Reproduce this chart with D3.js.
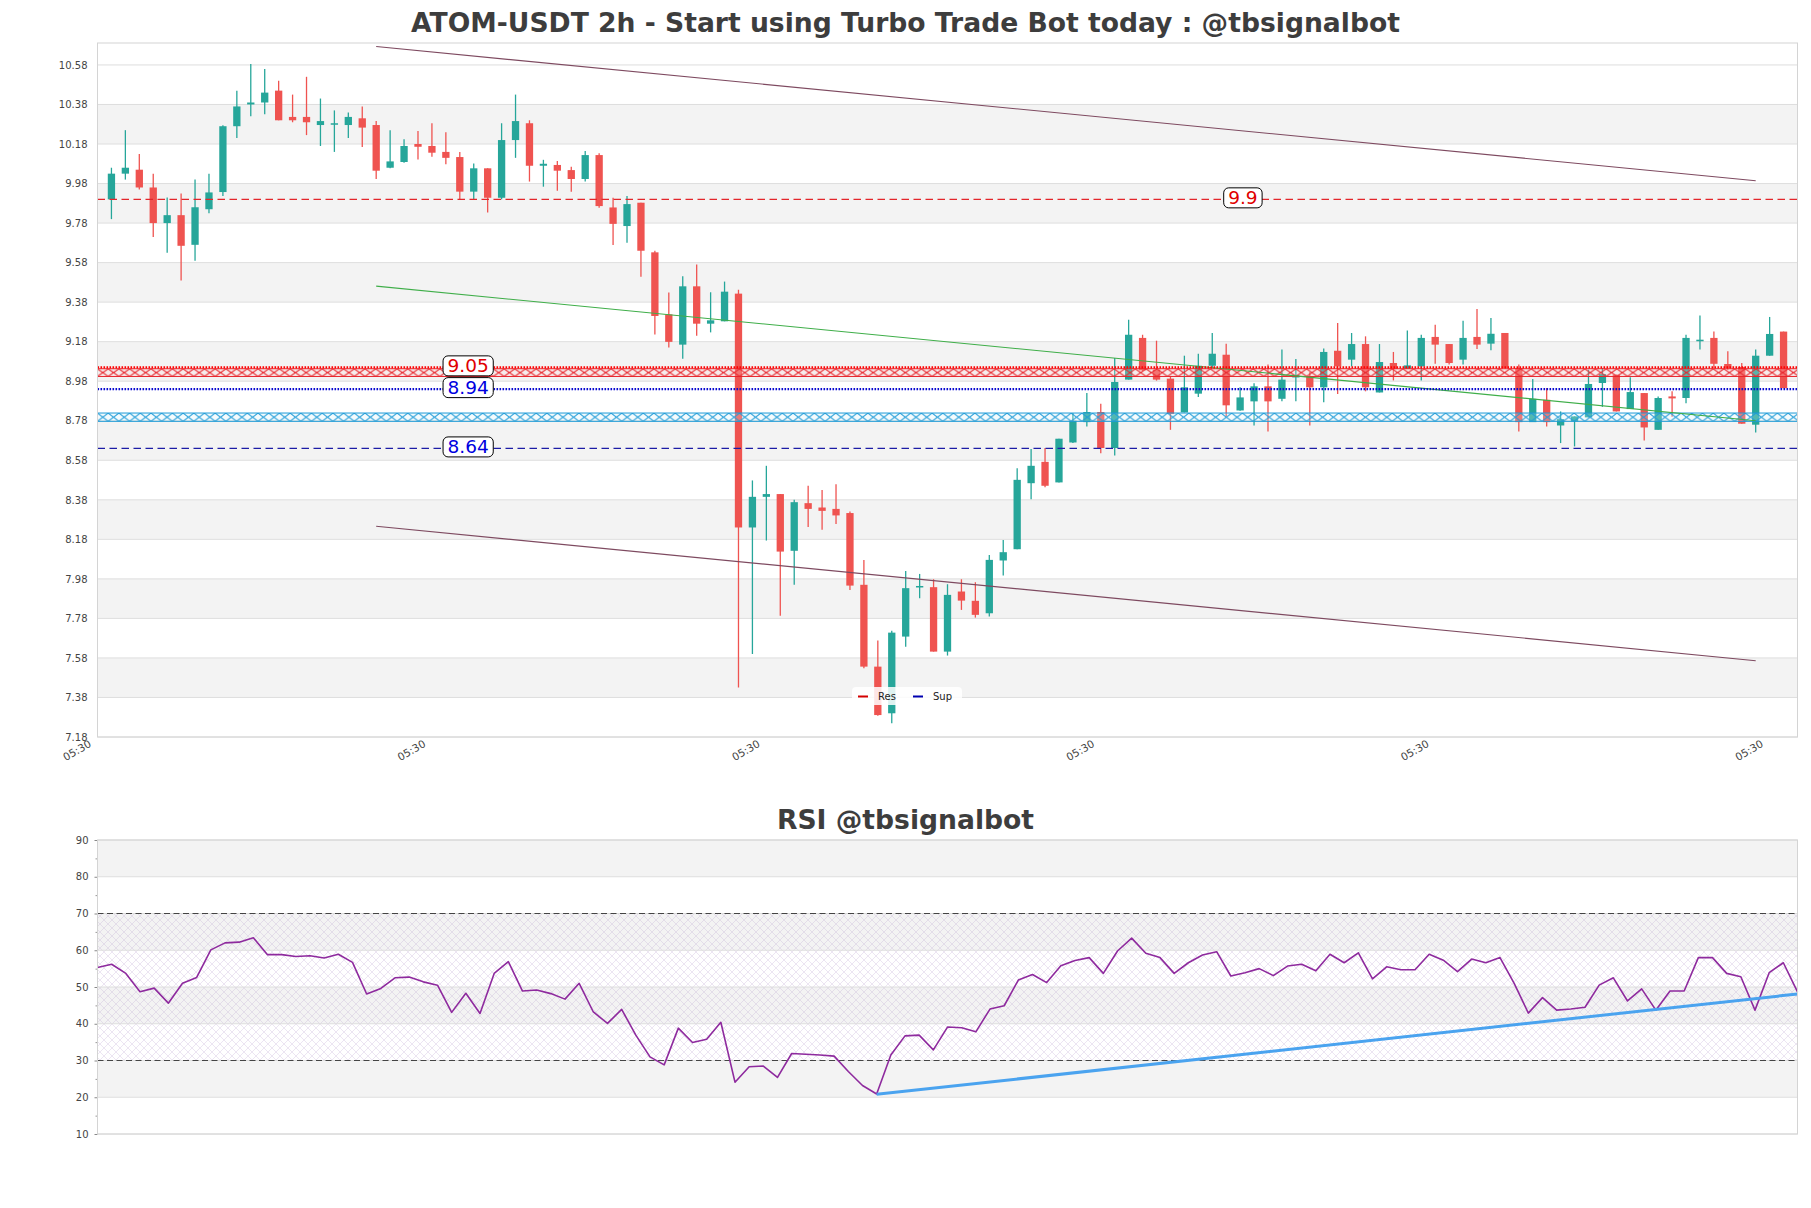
<!DOCTYPE html>
<html>
<head>
<meta charset="utf-8">
<script src="https://cdn.jsdelivr.net/npm/d3@7"></script>
<style>
  body { margin: 0; background: #fff; }
  svg { display: block; font-family: "DejaVu Sans", sans-serif; }
</style>
</head>
<body>
<div class="chart"></div>
<script>
// candle data, 2h bars
const opens = [9.90,10.03,10.05,9.96,9.78,9.82,9.67,9.85,9.937,10.27,
  10.38,10.39,10.45,10.317,10.317,10.276,10.28,10.276,10.31,10.276,
  10.06,10.089,10.18,10.17,10.14,10.114,9.939,10.057,9.908,10.20,
  10.285,10.07,10.074,10.048,10.003,10.124,9.859,9.765,9.883,9.632,
  9.318,9.165,9.46,9.271,9.283,9.423,8.24,8.395,8.409,8.122,
  8.363,8.341,8.334,8.313,7.95,7.536,7.30,7.688,7.939,7.938,
  7.612,7.916,7.869,7.806,8.073,8.13,8.464,8.572,8.468,8.67,
  8.773,8.824,8.642,8.988,9.199,9.038,8.993,8.822,8.917,9.058,
  9.114,8.832,8.878,8.954,8.891,8.999,9.004,8.949,9.134,9.089,
  9.168,8.923,9.072,9.043,9.055,9.204,9.168,9.089,9.204,9.17,
  9.224,9.047,8.773,8.886,8.756,8.777,8.797,8.971,9.013,8.839,
  8.92,8.734,8.903,8.895,9.182,9.199,9.067,9.052,8.76,9.109,
  9.231];
const highs = [10.06,10.25,10.13,10.03,9.91,9.93,10.00,10.03,10.275,10.45,
  10.585,10.56,10.50,10.43,10.52,10.41,10.35,10.34,10.37,10.296,
  10.25,10.204,10.246,10.285,10.24,10.14,10.082,10.057,10.285,10.43,
  10.30,10.10,10.094,10.065,10.145,10.133,9.908,9.917,9.883,9.64,
  9.429,9.511,9.57,9.43,9.484,9.443,8.478,8.552,8.409,8.38,
  8.451,8.43,8.459,8.321,8.076,7.668,7.717,8.02,8.005,7.978,
  7.953,7.978,7.963,8.101,8.177,8.54,8.637,8.642,8.689,8.819,
  8.92,8.866,9.097,9.291,9.215,9.185,9.004,9.109,9.119,9.224,
  9.17,8.95,8.97,9.064,9.14,9.092,9.025,9.145,9.275,9.224,
  9.207,9.168,9.128,9.236,9.215,9.266,9.168,9.286,9.345,9.30,
  9.224,9.064,8.991,8.945,8.827,8.802,9.038,9.047,9.013,9.0,
  8.92,8.903,8.929,9.215,9.312,9.232,9.131,9.072,9.14,9.305,
  9.231];
const lows = [9.80,10.00,9.95,9.71,9.63,9.49,9.59,9.83,9.917,10.21,
  10.32,10.33,10.30,10.29,10.225,10.17,10.14,10.21,10.165,10.003,
  10.057,10.085,10.102,10.116,10.077,9.90,9.90,9.834,9.90,10.11,
  9.99,9.964,9.944,9.939,9.99,9.857,9.669,9.68,9.508,9.216,
  9.151,9.094,9.21,9.227,9.283,7.43,7.60,8.174,7.794,7.95,
  8.242,8.228,8.258,7.924,7.528,7.288,7.249,7.637,7.882,7.612,
  7.592,7.823,7.784,7.789,7.997,8.13,8.383,8.444,8.468,8.667,
  8.751,8.616,8.604,8.988,9.03,8.983,8.734,8.822,8.90,9.047,
  8.802,8.83,8.756,8.726,8.878,8.878,8.756,8.873,8.915,9.055,
  8.929,8.923,8.984,9.043,8.984,9.068,9.064,9.064,9.143,9.136,
  9.047,8.726,8.773,8.751,8.667,8.65,8.797,8.85,8.827,8.839,
  8.68,8.734,8.80,8.869,9.14,9.047,9.038,8.765,8.72,9.109,
  8.945];
const closes = [10.03,10.06,9.96,9.78,9.82,9.665,9.86,9.935,10.27,10.37,
  10.39,10.44,10.30,10.30,10.29,10.296,10.285,10.317,10.263,10.045,
  10.092,10.17,10.166,10.136,10.11,9.939,10.057,9.908,10.20,10.296,
  10.07,10.08,10.045,10.003,10.124,9.866,9.776,9.876,9.64,9.31,
  9.179,9.46,9.271,9.288,9.433,8.24,8.395,8.409,8.118,8.368,
  8.334,8.324,8.301,7.946,7.536,7.291,7.708,7.933,7.944,7.612,
  7.899,7.87,7.798,8.076,8.115,8.481,8.552,8.451,8.689,8.78,
  8.824,8.642,8.976,9.215,9.035,8.988,8.814,8.949,9.058,9.119,
  8.858,8.898,8.954,8.878,8.988,9.012,8.949,9.128,9.055,9.168,
  8.949,9.077,9.043,9.06,9.199,9.165,9.072,9.199,9.165,9.22,
  9.047,8.773,8.891,8.773,8.788,8.802,8.966,9.016,8.827,8.925,
  8.746,8.895,8.893,9.199,9.19,9.068,9.047,8.765,9.109,9.219,
  8.945];

const rsiValues = [55.3,56.2,53.7,48.7,49.7,45.6,51.0,52.6,60.1,62.0,
  62.2,63.4,58.8,58.8,58.3,58.5,57.9,58.9,56.7,48.1,
  49.6,52.5,52.7,51.4,50.5,43.1,48.3,42.8,53.7,56.9,
  48.9,49.2,48.2,46.7,51.0,43.2,40.1,43.9,36.9,31.0,
  28.8,38.8,34.9,35.8,40.4,24.1,28.3,28.5,25.4,31.9,
  31.7,31.5,31.2,27.0,23.2,20.9,31.5,36.7,36.9,32.9,
  39.1,38.9,37.8,44.0,44.9,51.9,53.4,51.2,55.8,57.2,
  58.0,53.7,59.8,63.3,59.2,58.0,53.7,56.6,58.7,59.6,
  53.0,53.9,55.0,53.1,55.7,56.2,54.4,58.9,56.6,59.3,
  52.2,55.5,54.7,54.7,58.9,57.3,54.2,57.6,56.6,58.0,
  51.0,42.9,47.1,43.7,44.0,44.5,50.5,52.5,46.2,49.5,
  43.7,48.9,48.9,58.0,58.0,53.7,52.8,43.7,53.9,56.6,
  48.7];

const yTicks = [7.18,7.38,7.58,7.78,7.98,8.18,8.38,8.58,8.78,8.98,
  9.18,9.38,9.58,9.78,9.98,10.18,10.38,10.58];
const xTickIdx = [-1, 23, 47, 71, 95, 119];
const xTickLabels = ["05:30","05:30","05:30","05:30","05:30","05:30"];
const rsiTicks = [10,20,30,40,50,60,70,80,90];
const rsiMinor = [15,25,35,45,55,65,75,85];

// support / resistance
const resLevels = [9.9, 9.05];
const supLevels = [8.94, 8.64];
const resZone = [9.004, 9.043];
const supZone = [8.777, 8.819];
const labelIdx = [81.2, 25.6, 25.6, 25.6];
const labelVals = [9.9, 9.05, 8.94, 8.64];
const labelText = ["9.9", "9.05", "8.94", "8.64"];

// channel
const chanIdx = [19, 118];
const chanUpper = [10.673, 9.994];
const chanMid = [9.461, 8.78];
const chanLower = [8.246, 7.566];

const rsiTrendIdx = [55, 120];
const rsiTrendVal = [20.8, 48.1];
const rsiLevels = [70, 30];

const legendLabels = ["Res", "Sup"];

const W = 1811, H = 1208;
const up = "#26a69a", down = "#ef5350";

const svg = d3.select(".chart").append("svg")
  .attr("width", W).attr("height", H);

const defs = svg.append("defs");

const x = d3.scaleLinear().domain([-1, 121]).range([97.5, 1797.5]);
const y = d3.scaleLinear().domain([7.18, 10.691]).range([737, 43]);
const xr = d3.scaleLinear().domain([0, 120]).range([97.5, 1797.5]);
const yr = d3.scaleLinear().domain([10, 90]).range([1134, 840]);

// titles
svg.append("text").attr("x", 905.5).attr("y", 32)
  .attr("text-anchor", "middle").attr("font-size", 26.6).attr("font-weight", "bold")
  .attr("fill", "#3d3d3d")
  .text("ATOM-USDT 2h - Start using Turbo Trade Bot today : @tbsignalbot");
svg.append("text").attr("x", 905.5).attr("y", 829)
  .attr("text-anchor", "middle").attr("font-size", 26.6).attr("font-weight", "bold")
  .attr("fill", "#3d3d3d")
  .text("RSI @tbsignalbot");

// ---- price panel ----
const main = svg.append("g");
const [x0, x1] = x.range();

main.selectAll(".band").data(d3.range(1, yTicks.length - 1, 2)).enter()
  .append("rect")
  .attr("x", x0).attr("width", x1 - x0)
  .attr("y", k => y(yTicks[k + 1])).attr("height", k => y(yTicks[k]) - y(yTicks[k + 1]))
  .attr("fill", "#f3f3f3");

main.selectAll(".grid").data(yTicks).enter().append("line")
  .attr("x1", x0).attr("x2", x1)
  .attr("y1", d => y(d)).attr("y2", d => y(d))
  .attr("stroke", "#dedede").attr("stroke-width", 1);

main.append("g")
  .attr("transform", `translate(${x0},0)`)
  .call(d3.axisLeft(y).tickValues(yTicks).tickFormat(d3.format(".2f")).tickSize(0).tickPadding(10))
  .call(g => g.select(".domain").remove())
  .call(g => g.selectAll("text").attr("font-size", 10).attr("fill", "#444")
    .attr("font-family", "DejaVu Sans"));

const xAxis = main.append("g")
  .attr("transform", `translate(0,${y.range()[0]})`)
  .call(d3.axisBottom(x).tickValues(xTickIdx).tickFormat((d, i) => xTickLabels[i]).tickSize(0))
  .call(g => g.select(".domain").remove());
xAxis.selectAll("text")
  .attr("font-size", 10.5).attr("fill", "#444").attr("font-family", "DejaVu Sans")
  .attr("text-anchor", "end")
  .attr("transform", "translate(-6,9) rotate(-30)")
  .attr("dy", 0).attr("y", 0);

// candles
const candles = main.append("g");
const bw = 7.3;
d3.range(opens.length).forEach(i => {
  const col = closes[i] >= opens[i] ? up : down;
  candles.append("line")
    .attr("x1", x(i)).attr("x2", x(i))
    .attr("y1", y(highs[i])).attr("y2", y(lows[i]))
    .attr("stroke", col).attr("stroke-width", 1.3);
  const top = y(Math.max(opens[i], closes[i]));
  const bot = y(Math.min(opens[i], closes[i]));
  candles.append("rect")
    .attr("x", x(i) - bw / 2).attr("width", bw)
    .attr("y", top).attr("height", Math.max(1.5, bot - top))
    .attr("fill", col);
});

// hatched zones
function hatch(id, color, yTop, h) {
  const w = 10.7;
  const p = defs.append("pattern").attr("id", id)
    .attr("patternUnits", "userSpaceOnUse")
    .attr("x", x0).attr("y", yTop).attr("width", w).attr("height", h);
  p.append("path").attr("d", `M0,0L${w},${h}M0,${h}L${w},0`)
    .attr("stroke", color).attr("stroke-width", 1).attr("fill", "none");
}
function zone(id, vals, color, fillColor) {
  const yt = y(vals[1]), yb = y(vals[0]);
  hatch(id, color, yt, yb - yt);
  main.append("rect").attr("x", x0).attr("width", x1 - x0)
    .attr("y", yt).attr("height", yb - yt).attr("fill", fillColor).attr("fill-opacity", 0.25);
  main.append("rect").attr("x", x0).attr("width", x1 - x0)
    .attr("y", yt).attr("height", yb - yt)
    .attr("fill", `url(#${id})`).attr("stroke", color).attr("stroke-width", 1);
}
zone("hr", resZone, "#e8232a", "#ffd6d6");
zone("hs", supZone, "#1e9bd7", "#d6eef9");

// channel lines
const chan = [[chanUpper, "#7e4a60"], [chanLower, "#7e4a60"], [chanMid, "#3fae49"]];
chan.forEach(([v, c]) => {
  main.append("line")
    .attr("x1", x(chanIdx[0])).attr("y1", y(v[0]))
    .attr("x2", x(chanIdx[1])).attr("y2", y(v[1]))
    .attr("stroke", c).attr("stroke-width", 1.1);
});

// levels
const lvl = [
  [resLevels[0], "#e3262b", "7.5,4.5", 1.3],
  [resLevels[1], "#ff0000", "1.6,1.4", 2.4],
  [supLevels[0], "#0a0ad0", "1.6,1.4", 2.4],
  [supLevels[1], "#1c1ca6", "7.5,4.5", 1.3]
];
lvl.forEach(([v, c, dash, w]) => {
  main.append("line").attr("x1", x0).attr("x2", x1)
    .attr("y1", y(v)).attr("y2", y(v))
    .attr("stroke", c).attr("stroke-width", w).attr("stroke-dasharray", dash);
});

// value labels
const labelColors = ["#e00000", "#e00000", "#0000e0", "#0000e0"];
labelVals.forEach((v, i) => {
  const g = main.append("g");
  const t = g.append("text")
    .attr("x", x(labelIdx[i])).attr("y", y(v) + 5)
    .attr("text-anchor", "middle").attr("font-size", 18.5)
    .attr("fill", labelColors[i]).text(labelText[i]);
  const b = t.node().getBBox();
  g.insert("rect", "text")
    .attr("x", b.x - 4.5).attr("y", y(v) - 11.5)
    .attr("width", b.width + 9).attr("height", 20)
    .attr("rx", 5).attr("fill", "#fff").attr("stroke", "#000").attr("stroke-width", 1);
});

// legend
const lg = main.append("g").attr("transform", "translate(852,687)");
lg.append("rect").attr("width", 110).attr("height", 18).attr("rx", 4)
  .attr("fill", "#fff").attr("fill-opacity", 0.85);
const legendColors = ["#d40000", "#0000b0"];
legendLabels.forEach((l, i) => {
  const gx = 6 + i * 55;
  lg.append("line").attr("x1", gx).attr("x2", gx + 10).attr("y1", 9.5).attr("y2", 9.5)
    .attr("stroke", legendColors[i]).attr("stroke-width", 2);
  lg.append("text").attr("x", gx + 20).attr("y", 13).attr("font-size", 10)
    .attr("fill", "#222").text(l);
});

// frame
main.append("rect").attr("x", x0).attr("y", y.range()[1])
  .attr("width", x1 - x0).attr("height", y.range()[0] - y.range()[1])
  .attr("fill", "none").attr("stroke", "#d4d4d4");

// ---- RSI panel ----
const rp = svg.append("g");
[[80, 90], [60, 70], [40, 50], [20, 30]].forEach(([a, b]) => {
  rp.append("rect").attr("x", x0).attr("width", x1 - x0)
    .attr("y", yr(b)).attr("height", yr(a) - yr(b)).attr("fill", "#f3f3f3");
});

const rh = defs.append("pattern").attr("id", "rsih")
  .attr("patternUnits", "userSpaceOnUse").attr("width", 8).attr("height", 8);
rh.append("path").attr("d", "M0,0L8,8M0,8L8,0")
  .attr("stroke", "#b9a0cc").attr("stroke-width", 0.6).attr("fill", "none");
rp.append("rect").attr("x", x0).attr("width", x1 - x0)
  .attr("y", yr(rsiLevels[0])).attr("height", yr(rsiLevels[1]) - yr(rsiLevels[0]))
  .attr("fill", "url(#rsih)").attr("opacity", 0.45);

rp.selectAll(".rg").data(rsiTicks).enter().append("line")
  .attr("x1", x0).attr("x2", x1)
  .attr("y1", d => yr(d)).attr("y2", d => yr(d))
  .attr("stroke", "#dedede");

rp.append("g").attr("transform", `translate(${x0},0)`)
  .call(d3.axisLeft(yr).tickValues(rsiTicks).tickSize(3).tickPadding(6))
  .call(g => g.select(".domain").remove())
  .call(g => g.selectAll("line").attr("stroke", "#888"))
  .call(g => g.selectAll("text").attr("font-size", 10).attr("fill", "#444")
    .attr("font-family", "DejaVu Sans"));
rp.append("g").attr("transform", `translate(${x0},0)`)
  .call(d3.axisLeft(yr).tickValues(rsiMinor).tickSize(2).tickFormat(""))
  .call(g => g.select(".domain").remove())
  .call(g => g.selectAll("line").attr("stroke", "#999"));

rsiLevels.forEach(v => {
  rp.append("line").attr("x1", x0).attr("x2", x1)
    .attr("y1", yr(v)).attr("y2", yr(v))
    .attr("stroke", "#444").attr("stroke-width", 1.1).attr("stroke-dasharray", "6,3.5");
});

rp.append("path").datum(rsiValues)
  .attr("d", d3.line().x((d, i) => xr(i)).y(d => yr(d)))
  .attr("fill", "none").attr("stroke", "#8e2a9e").attr("stroke-width", 1.6)
  .attr("stroke-linejoin", "round");

rp.append("line")
  .attr("x1", xr(rsiTrendIdx[0])).attr("y1", yr(rsiTrendVal[0]))
  .attr("x2", xr(rsiTrendIdx[1])).attr("y2", yr(rsiTrendVal[1]))
  .attr("stroke", "#4aa3ef").attr("stroke-width", 3);

rp.append("rect").attr("x", x0).attr("y", yr.range()[1])
  .attr("width", x1 - x0).attr("height", yr.range()[0] - yr.range()[1])
  .attr("fill", "none").attr("stroke", "#d4d4d4");
</script>
</body>
</html>
